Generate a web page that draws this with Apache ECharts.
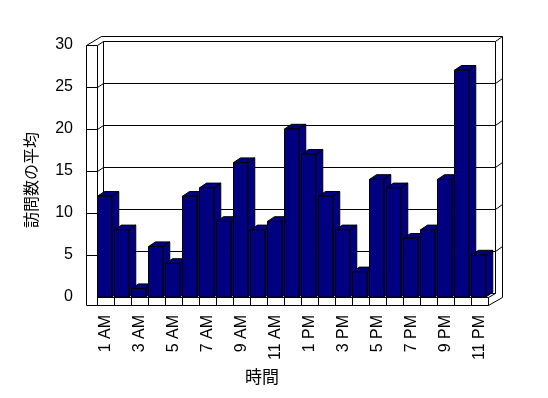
<!DOCTYPE html>
<html>
<head>
<meta charset="utf-8">
<script src="https://cdn.jsdelivr.net/npm/echarts@6/dist/echarts.min.js"></script>
<style>
html, body { margin: 0; padding: 0; background: #fff; }
#chart { width: 548px; height: 398px; }
</style>
</head>
<body>
<div id="chart"></div>
<script>
// 時間帯ごとの訪問数の平均
var hours = ['1 AM', '2 AM', '3 AM', '4 AM', '5 AM', '6 AM', '7 AM', '8 AM', '9 AM', '10 AM', '11 AM', '12 PM',
    '1 PM', '2 PM', '3 PM', '4 PM', '5 PM', '6 PM', '7 PM', '8 PM', '9 PM', '10 PM', '11 PM'];
var visits = [12, 8, 1, 6, 4, 12, 13, 9, 16, 8, 9, 20, 17, 12, 8, 3, 14, 13, 7, 8, 14, 27, 5];
var yTicks = [0, 5, 10, 15, 20, 25, 30];

var myChart = echarts.init(document.getElementById('chart'));

function px(v) { return Math.round(v) + 0.5; }
function seg(x1, y1, x2, y2) {
    return {
        type: 'line',
        shape: { x1: px(x1), y1: px(y1), x2: px(x2), y2: px(y2) },
        style: { stroke: '#000', lineWidth: 1 }
    };
}

// 枠（壁・床・目盛り線）
function renderFrame(params, api) {
    var cs = params.coordSys;
    var L = cs.x, R = cs.x + cs.width, T = cs.y, B = cs.y + cs.height;
    var v = api.value(0);
    var fy = api.coord([0, v])[1];
    var kids = [];
    if (v > 0 && v < 30) {
        kids.push(seg(L - 11, fy, L, fy));
        kids.push(seg(L, fy, L + 6, fy - 4));
        kids.push(seg(L + 6, fy - 4, R + 7, fy - 4));
        kids.push(seg(R + 7, fy - 4, R + 14, fy - 9));
    }
    if (v === 30) {
        kids.push(seg(L - 11, T, L, T));
        kids.push(seg(L - 11, T, L + 4, T - 9));
        kids.push(seg(L, T, L + 6, T - 4));
        kids.push(seg(L + 4, T - 9, R + 14, T - 9));
        kids.push(seg(L + 6, T - 4, R + 7, T - 4));
        kids.push(seg(R + 7, T - 4, R + 14, T - 9));
        kids.push(seg(R + 14, T - 9, R + 14, B));
        kids.push(seg(R + 7, T - 4, R + 7, B - 4));
        kids.push(seg(L + 6, T - 4, L + 6, B - 4));
        kids.push(seg(L - 11, T, L - 11, B + 8));
        kids.push(seg(L, T, L, B));
    }
    if (v === 0) {
        var cw = cs.width / hours.length;
        kids.push(seg(L + 6, B - 4, R + 7, B - 4));
        kids.push(seg(L - 11, B + 8, R, B + 8));
        kids.push(seg(L, B, R, B));
        kids.push(seg(R, B, R + 7, B - 4));
        kids.push(seg(R, B + 8, R + 14, B));
        for (var k = 0; k <= hours.length; k++) {
            kids.push(seg(L + k * cw, B, L + k * cw, B + 8));
        }
    }
    return { type: 'group', children: kids };
}

// 立体の棒
function renderBar(params, api) {
    var i = api.value(0), val = api.value(1);
    var top = api.coord([i, val]);
    var base = api.coord([i, 0]);
    var cw = api.size([1, 0])[0];
    var x0 = top[0] - cw / 2 + 0.5;
    var w = cw * 0.84;
    var dx = 7, dy = -4.7;
    var y1 = top[1], y0 = base[1];
    var st = { fill: '#000080', stroke: '#000', lineWidth: 1 };
    return {
        type: 'group',
        children: [
            { type: 'polygon', shape: { points: [[x0 + w, y1], [x0 + w + dx, y1 + dy], [x0 + w + dx, y0 + dy], [x0 + w, y0]] }, style: st },
            { type: 'polygon', shape: { points: [[x0, y1], [x0 + dx, y1 + dy], [x0 + w + dx, y1 + dy], [x0 + w, y1]] }, style: st },
            { type: 'rect', shape: { x: x0, y: y1, width: w, height: y0 - y1 }, style: st }
        ]
    };
}

var option = {
    animation: false,
    backgroundColor: '#fff',
    grid: { left: 97, right: 60, top: 45, bottom: 101 },
    xAxis: {
        type: 'category',
        data: hours,
        axisLine: { show: false },
        axisTick: { show: false },
        axisLabel: {
            interval: 1,
            rotate: 90,
            margin: 18,
            color: '#000',
            fontSize: 16,
            fontFamily: 'Liberation Sans, Arial, sans-serif'
        }
    },
    yAxis: {
        type: 'value',
        min: 0,
        max: 30,
        interval: 5,
        axisLine: { show: false },
        axisTick: { show: false },
        splitLine: { show: false },
        axisLabel: {
            margin: 24,
            color: '#000',
            fontSize: 16,
            fontFamily: 'Liberation Sans, Arial, sans-serif'
        }
    },
    graphic: [
        {
            type: 'text', x: 31, y: 180, rotation: Math.PI / 2,
            style: { text: '訪問数の平均', fill: '#000', font: '16px "Noto Sans CJK JP"', align: 'center', verticalAlign: 'middle' }
        },
        {
            type: 'text', x: 262, y: 377,
            style: { text: '時間', fill: '#000', font: '17px "Noto Sans CJK JP"', align: 'center', verticalAlign: 'middle' }
        }
    ],
    series: [
        {
            type: 'custom',
            name: 'frame',
            renderItem: renderFrame,
            data: yTicks.map(function (t) { return [t]; }),
            encode: { y: 0 },
            silent: true,
            z: 1
        },
        {
            type: 'custom',
            name: '訪問数の平均',
            renderItem: renderBar,
            data: visits.map(function (v, i) { return [i, v]; }),
            encode: { x: 0, y: 1 },
            z: 2
        }
    ]
};
myChart.setOption(option);
</script>
</body>
</html>
